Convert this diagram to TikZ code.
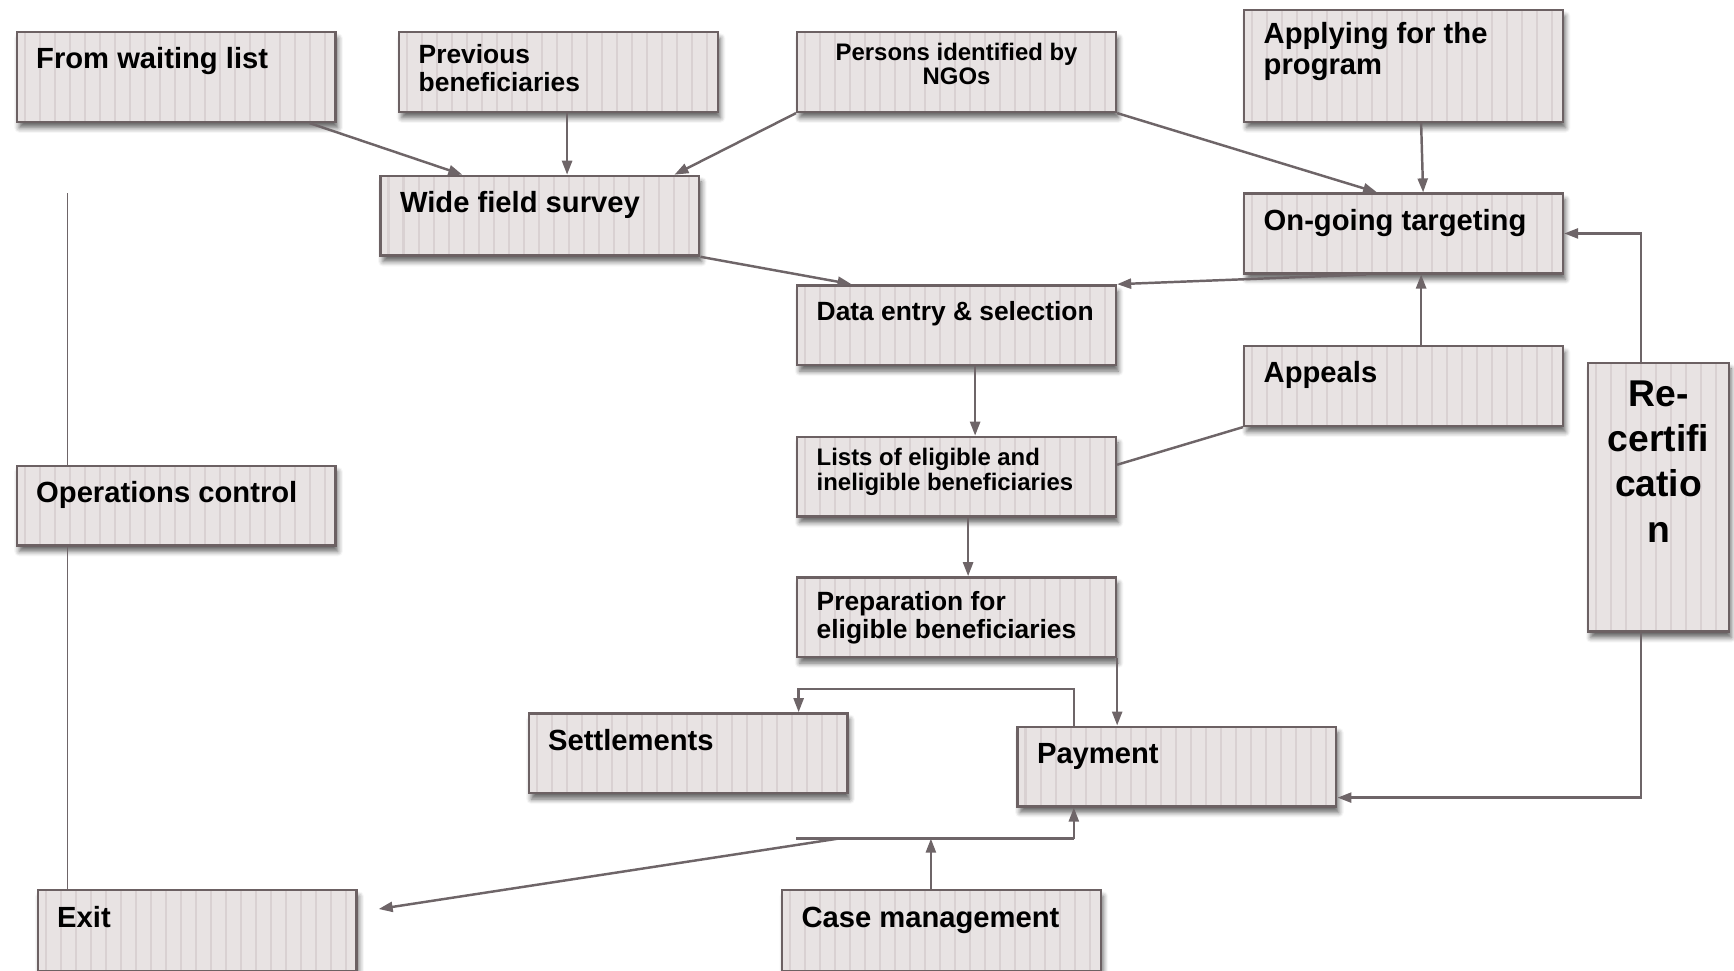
\documentclass[tikz,border=0pt]{standalone}
\usepackage{fontspec}
\setmainfont{Liberation Sans}
\usepackage{tikz}
\usetikzlibrary{calc,arrows.meta,shadows.blur}

\definecolor{boxfill}{HTML}{E8E3E3}
\definecolor{boxline}{HTML}{6C6163}
\definecolor{stripecol}{HTML}{D9D1D2}
\definecolor{wirecol}{HTML}{6E6568}

\newcommand{\fbig}{\bfseries\fontsize{8.3}{8.9}\selectfont}
\newcommand{\fmid}{\bfseries\fontsize{7.5}{8.0}\selectfont}
\newcommand{\fsml}{\bfseries\fontsize{6.8}{6.9}\selectfont}
\newcommand{\fhuge}{\bfseries\fontsize{10.6}{12.8}\selectfont}

\tikzset{
  box/.style={draw=boxline, line width=0.7pt, fill=boxfill, anchor=north west, inner sep=0pt,
    minimum width=3.185cm, minimum height=0.796cm,
    blur shadow={shadow xshift=0.025cm, shadow yshift=-0.06cm, shadow blur steps=5, shadow blur radius=0.05cm, shadow opacity=60},
    path picture={\foreach \s in {0.08,0.23,...,3.2}
      \draw[stripecol, line width=0.6pt] ([xshift=\s cm]path picture bounding box.south west) -- ([xshift=\s cm]path picture bounding box.north west);}},
  lbl/.style={anchor=north west, xshift=0.2cm, yshift=-0.16cm, inner sep=0pt, align=left, font=\fbig},
  wire/.style={draw=wirecol, line width=0.7pt},
  arr/.style={wire, -{Triangle[length=0.14cm, width=0.1cm]}},
}

\begin{document}
\begin{tikzpicture}[x=0.01cm, y=-0.01cm]
\useasboundingbox (0,0) rectangle (1734,970);

\node[box, minimum height=0.896cm, label={[lbl]north west:{From waiting list}}] (wait) at (15.5,31) {};
\node[box, label={[lbl, font=\fmid, yshift=0.03cm]north west:{Previous\\beneficiaries}}] (prev) at (398,31) {};
\node[box, label={[anchor=north, yshift=-0.11cm, inner sep=0pt, align=center, font=\fsml]north:{Persons identified by\\NGOs}}] (ngo) at (796,31) {};
\node[box, minimum height=1.117cm, label={[lbl, yshift=0.03cm]north west:{Applying for the\\program}}] (apply) at (1243,8.8) {};
\node[box, label={[lbl]north west:{Wide field survey}}] (survey) at (379.3,174.7) {};
\node[box, label={[lbl]north west:{On-going targeting}}] (target) at (1243,192.4) {};
\node[box, label={[lbl, font=\fmid]north west:{Data entry \& selection}}] (entry) at (796,284.2) {};
\node[box, label={[lbl]north west:{Appeals}}] (appeals) at (1243,345) {};
\node[box, label={[lbl, font=\fsml, yshift=0.04cm]north west:{Lists of eligible and\\ineligible beneficiaries}}] (lists) at (796,435.7) {};
\node[box, label={[lbl]north west:{Operations control}}] (ops) at (15.5,464.5) {};
\node[box, minimum width=1.404cm, minimum height=2.687cm, label={[anchor=north, yshift=-0.19cm, inner sep=0pt, align=center, font=\fhuge]north:{Re-\\certifi\\catio\\n}}] (recert) at (1587,361.6) {};
\node[box, label={[lbl, font=\fmid, yshift=0.02cm]north west:{Preparation for\\eligible beneficiaries}}] (prep) at (796,576.2) {};
\node[box, label={[lbl]north west:{Settlements}}] (settle) at (527.5,712.2) {};
\node[box, label={[lbl, yshift=-0.01cm]north west:{Payment}}] (pay) at (1016.3,725.5) {};
\node[box, minimum height=0.81cm, label={[lbl, yshift=-0.01cm]north west:{Exit}}] (exit) at (36.5,889) {};
\node[box, minimum height=0.81cm, label={[lbl, yshift=-0.01cm]north west:{Case management}}] (case) at (780.8,889) {};

\draw[arr] ([xshift=-0.27cm]wait.south east) -- ([xshift=0.83cm]survey.north west);
\draw[arr] ([xshift=0.085cm]prev.south) -- ([xshift=0.085cm]prev.south |- survey.north);
\draw[arr] (ngo.south west) -- ([xshift=-0.26cm]survey.north east);
\draw[arr] (ngo.south east) -- ([xshift=1.34cm]target.north west);
\draw[arr] ([xshift=1.78cm]apply.south west) -- ([xshift=1.8cm]target.north west);
\draw[arr] (survey.south east) -- ([xshift=0.555cm]entry.north west);
\draw[arr] ([xshift=1.23cm]target.south west) -- (entry.north east);
\draw[arr] ([xshift=1.78cm]appeals.north west) -- ([xshift=1.78cm]target.south west);
\draw[wire] (appeals.south west) -- ([yshift=-0.29cm]lists.north east);
\draw[arr] ([xshift=1.79cm]entry.south west) -- ([xshift=1.79cm]lists.north west);
\draw[arr] ([xshift=1.72cm]lists.south west) -- ([xshift=1.72cm]prep.north west);
\draw[arr] (prep.south east) -- (prep.south east |- pay.north);
\draw[arr] ([xshift=0.575cm]pay.north west) |- ([xshift=-0.5cm, yshift=0.23cm]settle.north east) -- ([xshift=-0.5cm]settle.north east);
\draw[arr] ([xshift=0.54cm]recert.north west) |- (target.east);
\draw[arr] ([xshift=0.54cm]recert.south west) |- ([yshift=0.1cm]pay.south east);
\coordinate (jr) at ([xshift=0.575cm, yshift=-0.31cm]pay.south west);
\coordinate (jl) at (prep.west |- jr);
\draw[wire] (jl) -- (jr);
\draw[arr] (jr) -- (jr |- pay.south);
\draw[arr] ([xshift=1.5cm]case.north west) -- ([xshift=1.5cm]case.north west |- jr);
\draw[arr] ([xshift=0.42cm]jl) -- ([xshift=0.21cm, yshift=-0.2cm]exit.north east);
\draw[wire, line width=0.45pt] ([xshift=0.52cm, yshift=2.71cm]ops.north west) -- ([xshift=0.52cm]ops.north west);
\draw[wire, line width=0.45pt] ([xshift=0.52cm]ops.south west) -- ([xshift=0.52cm]ops.south west |- exit.north);
\end{tikzpicture}
\end{document}
